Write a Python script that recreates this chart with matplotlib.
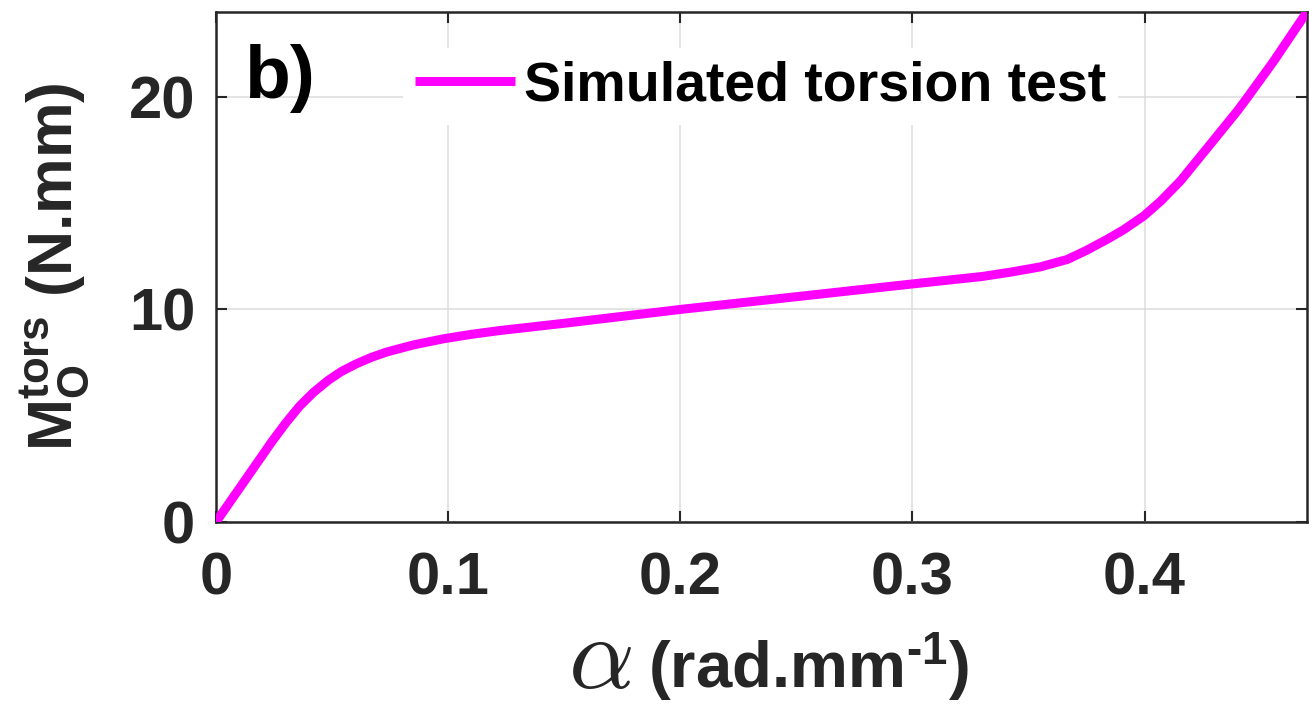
import matplotlib
matplotlib.use("Agg")
import matplotlib.pyplot as plt

# torsion moment vs twist per unit length
alpha = [0, 0.01, 0.02, 0.024, 0.03, 0.036, 0.042, 0.0484, 0.054, 0.0606,
         0.067, 0.0736, 0.085, 0.098, 0.11, 0.1224, 0.15, 0.2, 0.25, 0.3,
         0.33, 0.342, 0.355, 0.36, 0.3667, 0.375, 0.3839, 0.391, 0.3997,
         0.407, 0.4155, 0.4284, 0.44, 0.4443, 0.4557, 0.4644, 0.47]
moment = [0, 1.57, 3.14, 3.77, 4.65, 5.45, 6.1, 6.67, 7.08, 7.45,
          7.75, 8.0, 8.33, 8.62, 8.83, 9.01, 9.35, 10.0, 10.6, 11.2,
          11.55, 11.75, 12.0, 12.15, 12.35, 12.78, 13.3, 13.75, 14.4,
          15.1, 16.05, 17.78, 19.34, 19.97, 21.69, 23.1, 24.0]
xticks = [0, 0.1, 0.2, 0.3, 0.4]
xticklabels = ["0", "0.1", "0.2", "0.3", "0.4"]
yticks = [0, 10, 20]
series_name = "Simulated torsion test"

plt.rcParams["font.family"] = ["Liberation Sans", "DejaVu Sans"]
plt.rcParams["font.weight"] = "bold"
plt.rcParams["mathtext.fontset"] = "custom"
plt.rcParams["mathtext.rm"] = "Liberation Sans:bold"
plt.rcParams["mathtext.bf"] = "Liberation Sans:bold"
plt.rcParams["mathtext.it"] = "Liberation Sans:bold"

dark = "#262626"

fig = plt.figure(figsize=(13.09, 7.09), dpi=100)
ax = fig.add_axes([0.165, 0.2637, 0.8335, 0.7196])

ax.plot(alpha, moment, color="#ff00ff", lw=6.5, label=series_name,
        solid_capstyle="butt", solid_joinstyle="round", zorder=3)

ax.set_xlim(0, 0.47)
ax.set_ylim(0, 24)
ax.set_xticks(xticks)
ax.set_xticklabels(xticklabels)
ax.set_yticks(yticks)

ax.grid(True, color="#dcdcdc", lw=1.1)
ax.set_axisbelow(True)
for s in ax.spines.values():
    s.set_color(dark)
    s.set_linewidth(1.8)
ax.tick_params(axis="both", direction="in", top=True, right=True,
               length=8, width=1.5, color=dark, labelcolor=dark,
               labelsize=43)
ax.tick_params(axis="x", pad=21)
ax.tick_params(axis="y", pad=15)

ax.set_ylabel(r"$\mathbf{M}_{\mathbf{O}}^{\mathbf{tors}}$ (N.mm)",
              fontsize=45, color=dark, fontweight="bold")
ax.yaxis.set_label_coords(-0.115, 0.5)

# x label: latex-like alpha plus bold unit text
fig.text(0.434, 0.0296, r"$\alpha$", fontsize=74, math_fontfamily="cm",
         color=dark, ha="left", va="baseline")
fig.text(0.495, 0.0296, r"(rad.mm$^{\text{-1}}$)", fontsize=47,
         color=dark, fontweight="bold", ha="left", va="baseline")

ax.text(0.026, 0.937, "b)", transform=ax.transAxes, fontsize=54,
        fontweight="bold", color="black", ha="left", va="top")

leg = ax.legend(loc="upper left", bbox_to_anchor=(0.1714, 0.929),
                frameon=True, facecolor="white", edgecolor="none",
                framealpha=1, fontsize=40, handlelength=1.8,
                handletextpad=0.16, borderpad=0.22, borderaxespad=0)
for t in leg.get_texts():
    t.set_fontweight("bold")
    t.set_color("black")

fig.savefig("out.png", dpi=100)
